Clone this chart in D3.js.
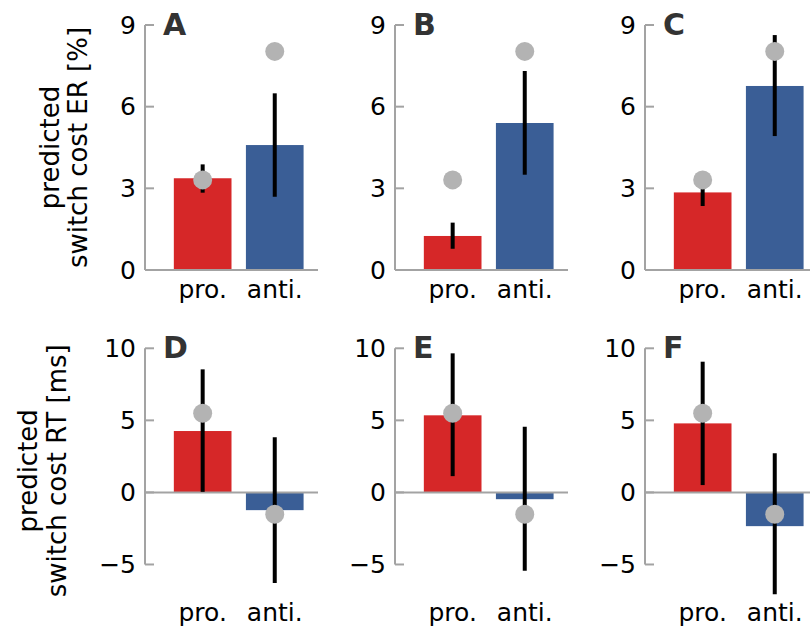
<!DOCTYPE html>
<html>
<head>
<meta charset="utf-8">
<script src="https://cdn.jsdelivr.net/npm/d3@7"></script>
<style>
  body { margin: 0; background: #fff; }
  svg text { font-family: "DejaVu Sans", sans-serif; }
</style>
</head>
<body>
<script>
//---------------- data ----------------
const conditions = ["pro.", "anti."];
const panelLetters = ["A", "B", "C", "D", "E", "F"];

// top row: switch cost ER [%]
const erBars = [[3.37, 4.59], [1.25, 5.40], [2.85, 6.76]];
const erLow = [[2.84, 2.69], [0.78, 3.50], [2.35, 4.92]];
const erHigh = [[3.88, 6.49], [1.74, 7.31], [3.35, 8.63]];
const erObserved = [3.31, 8.03];
const erTicks = [0, 3, 6, 9];

// bottom row: switch cost RT [ms]
const rtBars = [[4.26, -1.23], [5.35, -0.47], [4.79, -2.34]];
const rtLow = [[0.04, -6.28], [1.13, -5.44], [0.51, -7.06]];
const rtHigh = [[8.54, 3.82], [9.65, 4.56], [9.07, 2.71]];
const rtObserved = [5.49, -1.51];
const rtTicks = [-5, 0, 5, 10];

const barColors = ["#d62728", "#3a5e96"];
const gray = "#a3a3a3";

//---------------- svg ----------------
const width = 810, height = 633;
const svg = d3.select("body").append("svg").attr("width", width).attr("height", height);

const rows = [
  { top: 25, bars: erBars, low: erLow, high: erHigh, obs: erObserved, ticks: erTicks,
    domain: [0, 9], spine: [0, 9], label: ["predicted", "switch cost ER [%]"], labelX: [50, 78] },
  { top: 348.3, bars: rtBars, low: rtLow, high: rtHigh, obs: rtObserved, ticks: rtTicks,
    domain: [-7, 10], spine: [-5, 10], label: ["predicted", "switch cost RT [ms]"], labelX: [28, 57] }
];

const axH = 245, axW = 173;
const fs = "25px";
const x = d3.scaleLinear().domain([-0.8, 1.6]).range([0, axW]);
const barW = x(0.8) - x(0);

rows.forEach((row, r) => {
  const y = d3.scaleLinear().domain(row.domain).range([row.top + axH, row.top]);

  // y label
  const cy = row.top + axH / 2;
  row.label.forEach((t, i) => {
    svg.append("text")
      .attr("transform", `translate(${row.labelX[i]},${cy}) rotate(-90)`)
      .attr("text-anchor", "middle")
      .attr("dominant-baseline", "central")
      .style("font-size", "26px")
      .text(t);
  });

  for (let c = 0; c < 3; c++) {
    const left = 145 + c * 250;
    const g = svg.append("g").attr("transform", `translate(${left},0)`);

    // spines
    g.append("line")
      .attr("x1", 0).attr("x2", 0)
      .attr("y1", y(row.spine[0])).attr("y2", y(row.spine[1]))
      .attr("stroke", gray).attr("stroke-width", 2);

    // y ticks
    row.ticks.forEach((t) => {
      g.append("line")
        .attr("x1", 0).attr("x2", 9)
        .attr("y1", y(t)).attr("y2", y(t))
        .attr("stroke", gray).attr("stroke-width", 2);
      g.append("text")
        .attr("x", -9).attr("y", y(t))
        .attr("text-anchor", "end")
        .attr("dominant-baseline", "central")
        .style("font-size", fs)
        .text(t < 0 ? "\u2212" + Math.abs(t) : t);
    });

    // bars
    conditions.forEach((cond, k) => {
      const v = row.bars[c][k];
      g.append("rect")
        .attr("x", x(k) - barW / 2)
        .attr("width", barW)
        .attr("y", y(Math.max(0, v)))
        .attr("height", Math.abs(y(v) - y(0)))
        .attr("fill", barColors[k]);
    });

    // zero line
    g.append("line")
      .attr("x1", 0).attr("x2", axW)
      .attr("y1", y(0)).attr("y2", y(0))
      .attr("stroke", gray).attr("stroke-width", 2);

    // error bars
    conditions.forEach((cond, k) => {
      g.append("line")
        .attr("x1", x(k)).attr("x2", x(k))
        .attr("y1", y(row.low[c][k])).attr("y2", y(row.high[c][k]))
        .attr("stroke", "#000").attr("stroke-width", 4);
    });

    // observed
    conditions.forEach((cond, k) => {
      g.append("circle")
        .attr("cx", x(k)).attr("cy", y(row.obs[k]))
        .attr("r", 9.5)
        .attr("fill", "#b3b3b3");
    });

    // x tick labels
    conditions.forEach((cond, k) => {
      g.append("text")
        .attr("x", x(k)).attr("y", row.top + axH + 28)
        .attr("text-anchor", "middle")
        .style("font-size", fs)
        .text(cond);
    });

    // panel letter
    g.append("text")
      .attr("x", 18).attr("y", row.top + 9.5)
      .style("font-size", "30px")
      .style("font-weight", "bold")
      .attr("fill", "#333")
      .text(panelLetters[r * 3 + c]);
  }
});
</script>
</body>
</html>
